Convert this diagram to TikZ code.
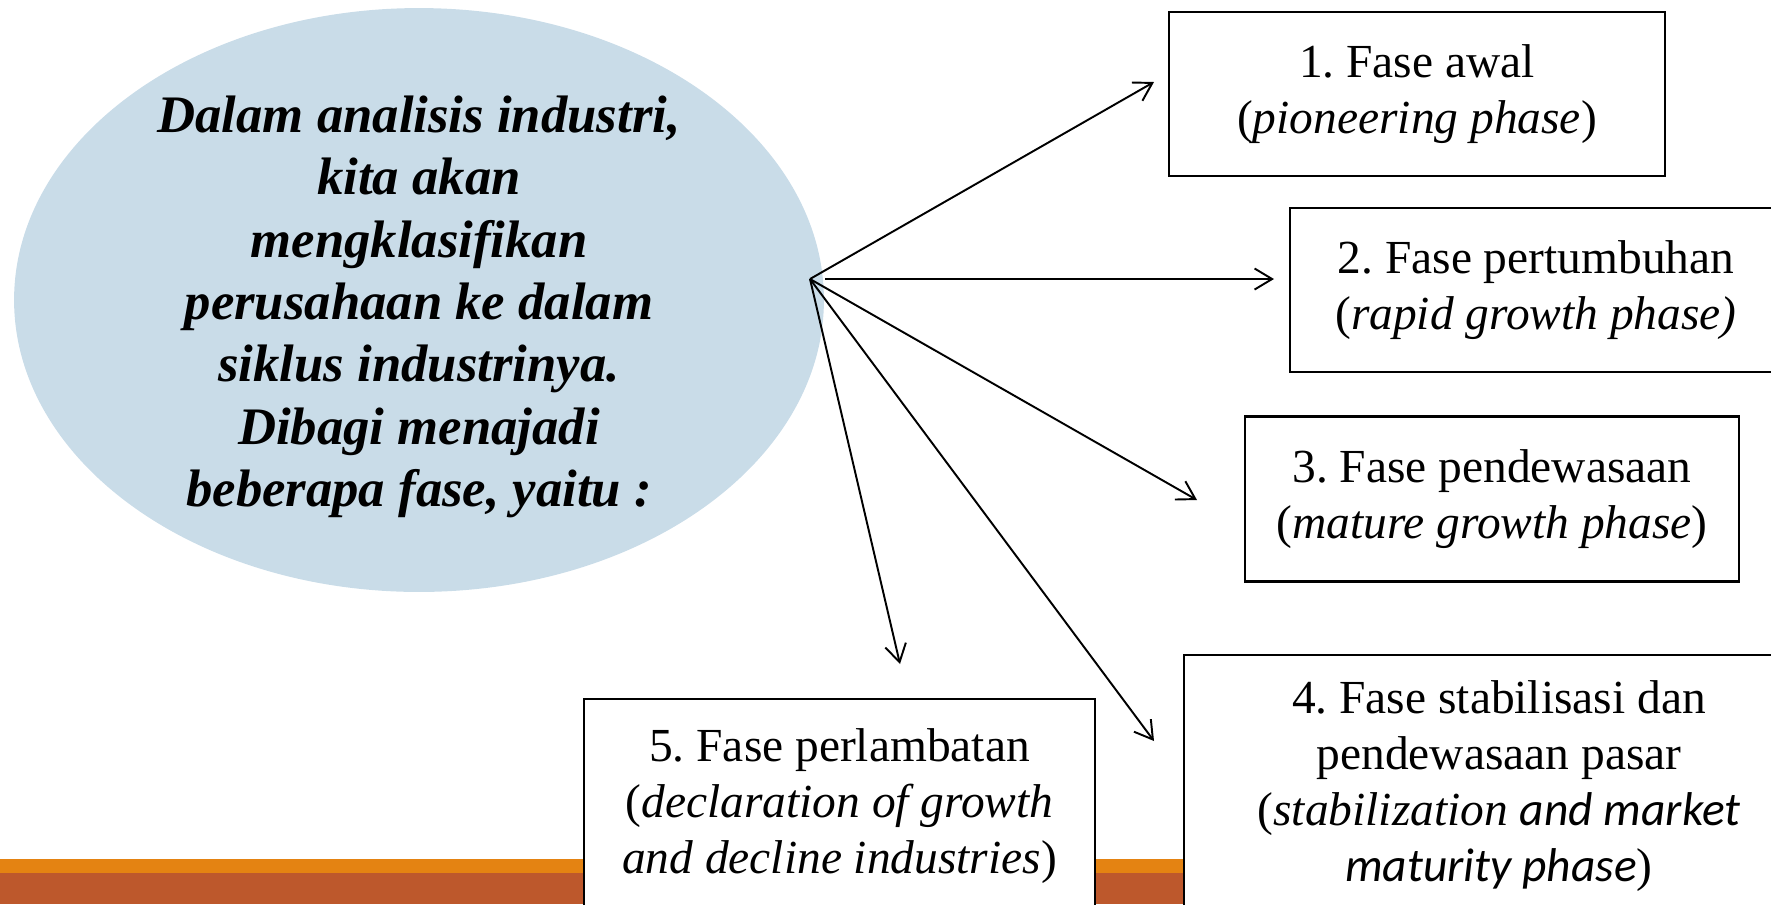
\documentclass[tikz,border=0pt]{standalone}
\usepackage{fontspec}
\setmainfont{LiberationSerif}[
  Extension=.ttf,
  UprightFont=*-Regular,
  ItalicFont=*-Italic,
  BoldFont=*-Bold,
  BoldItalicFont=*-BoldItalic]
\newfontfamily\calibrifont{Carlito}
\frenchspacing
\usetikzlibrary{shapes.geometric}
\usetikzlibrary{arrows.meta}
\definecolor{bubbleblue}{RGB}{201,220,232}
\definecolor{barorange}{RGB}{228,131,18}
\definecolor{barrust}{RGB}{189,88,44}
\tikzset{every node/.style={align=center},
  phase/.style={ % boxes of the five phases
    draw, rectangle, line width=1.3pt, fill=white, inner sep=0pt,
    font=\fontsize{27}{32}\selectfont},
  bubble/.style={ % the question bubble
    ellipse, fill=bubbleblue, inner sep=0pt},
  bubbletext/.style={
    font=\fontsize{30}{35.5}\selectfont\bfseries\itshape},
  link/.style={ % arrows out of the bubble
    draw, line width=1.1pt, -{Straight Barb[length=10pt,width=12pt]}}}

\begin{document}
\begin{tikzpicture}[x=0.02cm, y=-0.02cm]
  \useasboundingbox (0,0) rectangle (1771,904);
  \clip (0,0) rectangle (1771,904);

  % footer bars
  \fill [barorange] (0,859) rectangle (1771,873);
  \fill [barrust] (0,873) rectangle (1771,904);

  \node [bubble, minimum width=16.2cm, minimum height=11.68cm] (intro) at (419,300) {};
  \node [bubbletext] (question) at (419,307) {
    Dalam analisis industri,\\
    kita akan\\
    mengklasifikan\\
    perusahaan ke dalam\\
    siklus industrinya.\\
    Dibagi menajadi\\
    beberapa fase, yaitu :
  };

  \node [phase, minimum width=9.92cm, minimum height=3.28cm] (awal) at (1417,94) {
    1. Fase awal\\
    (\textit{pioneering phase})
  };
  \node [phase, minimum width=9.84cm, minimum height=3.28cm] (tumbuh) at (1536,290) {
    2. Fase pertumbuhan\\
    (\textit{rapid growth phase)}
  };
  \node [phase, minimum width=9.88cm, minimum height=3.3cm] (dewasa) at (1492,499) {
    3. Fase pendewasaan\\
    (\textit{mature growth phase})
  };
  \node [phase, minimum width=12.6cm, minimum height=5.24cm] (stabil) at (1499,786) {
    4. Fase stabilisasi dan\\
    pendewasaan pasar\\
    (\textit{stabilization} {\calibrifont\itshape and market}\\
    {\calibrifont\itshape maturity phase})
  };
  \node [phase, minimum width=10.22cm, minimum height=4.28cm] (lambat) at (839.5,806) {
    5. Fase perlambatan\\
    (\textit{declaration of growth}\\
    \textit{and decline industries})
  };

  % arrow tips stop short of the boxes
  \coordinate (hub) at (810,279);
  \coordinate (to awal) at (1154,82);
  \coordinate (to tumbuh) at (1274,279);
  \coordinate (to dewasa) at (1197,500);
  \coordinate (to stabil) at (1154,741);
  \coordinate (to lambat) at (900,664);

  \draw [link] (hub) -- (to awal);
  \draw [link, shorten <=0.3cm] (hub) -- (to tumbuh);
  \draw [link] (hub) -- (to dewasa);
  \draw [link] (hub) -- (to stabil);
  \draw [link] (hub) -- (to lambat);
\end{tikzpicture}
\end{document}
